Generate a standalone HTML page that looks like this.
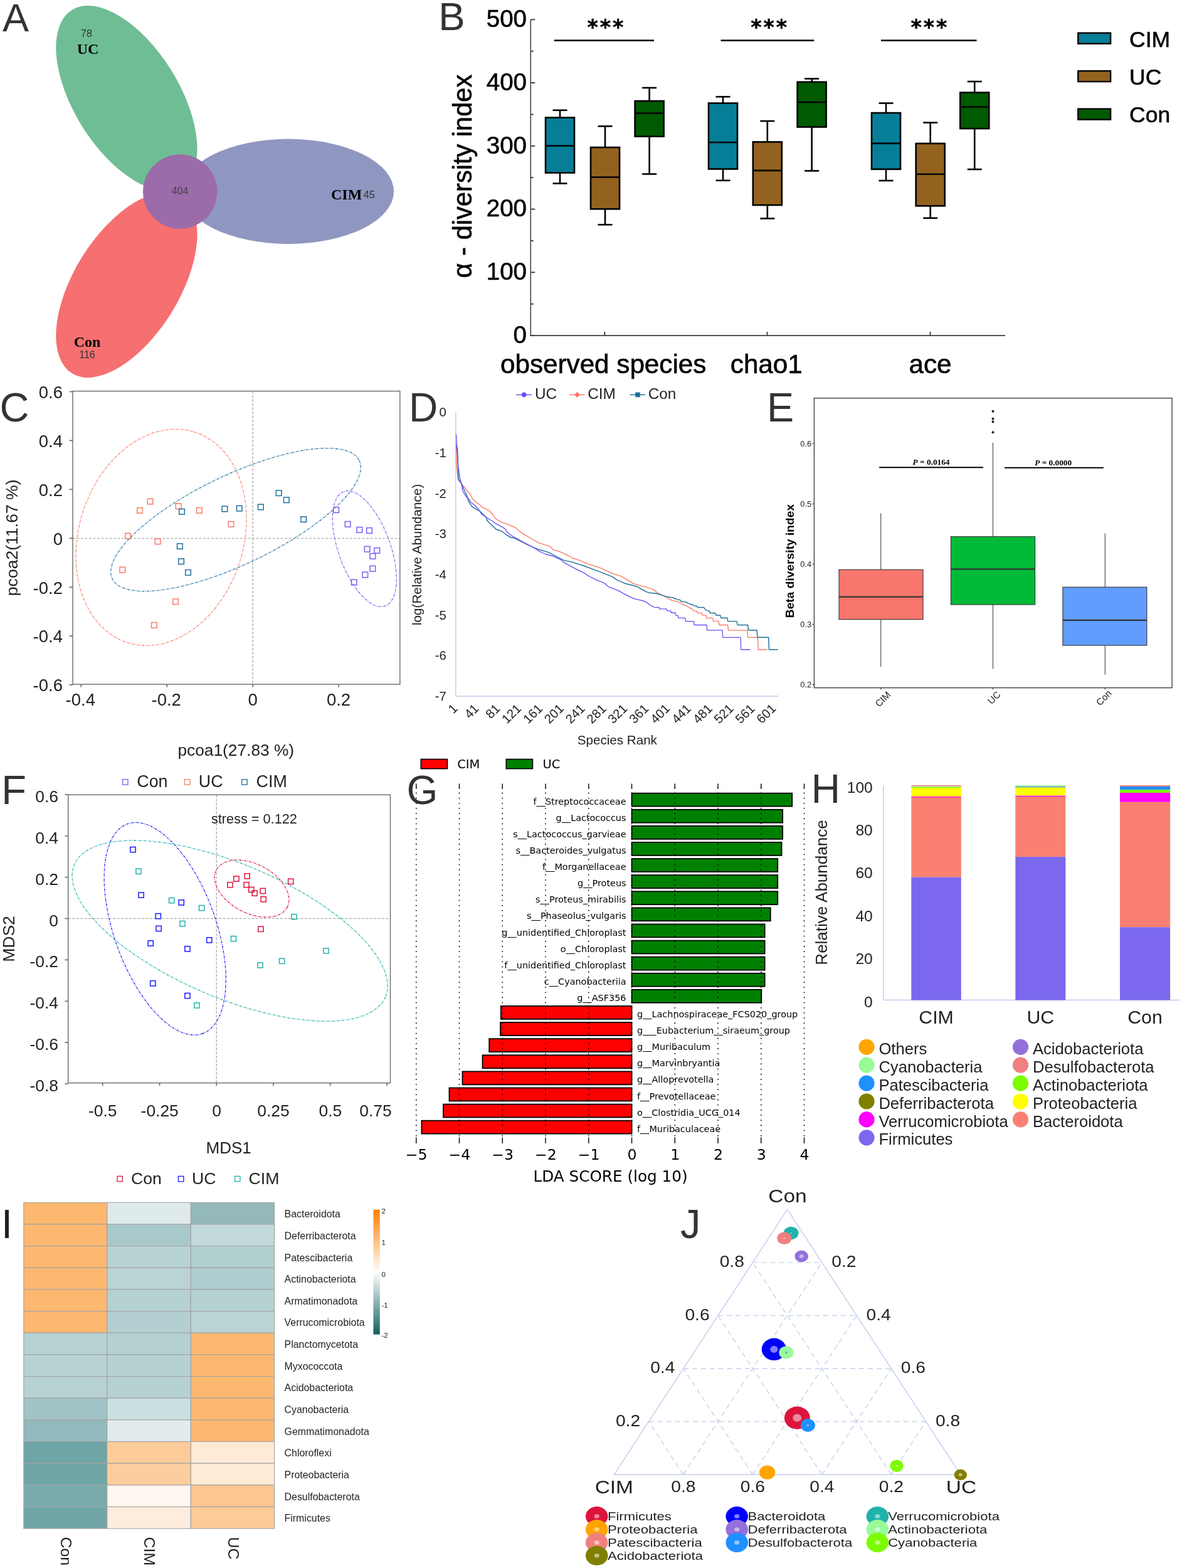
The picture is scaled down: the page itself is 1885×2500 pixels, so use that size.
<!DOCTYPE html>
<html><head><meta charset="utf-8"><title>Figure</title>
<style>html,body{margin:0;padding:0;background:#fff;} svg{display:block;}</style></head>
<body><svg width="1885" height="2500" viewBox="0 0 1885 2500">
<rect width="1885" height="2500" fill="#fff"/>
<!-- panelA -->
<ellipse cx="201.9" cy="156.45" rx="165.42" ry="84.01" fill="#6fbd95" transform="rotate(58.25 201.9 156.45)"/>
<ellipse cx="201.9" cy="454.55" rx="165.42" ry="84.01" fill="#f66f71" transform="rotate(-58.25 201.9 454.55)"/>
<ellipse cx="459.7" cy="305.25" rx="168.4" ry="83.65" fill="#8f97c1"/>
<circle cx="287.2" cy="305.5" r="59.2" fill="#9c6ba9"/>
<text x="4" y="50.4" font-size="63" font-family="Liberation Sans, Arial, sans-serif" fill="#333" text-anchor="start" >A</text>
<text x="138" y="59.4" font-size="16" font-family="Liberation Sans, Arial, sans-serif" fill="#333" text-anchor="middle" >78</text>
<text x="140" y="86" font-size="24" font-family="Liberation Serif, Times New Roman, serif" fill="#000" text-anchor="middle" font-weight="bold">UC</text>
<text x="287" y="309.5" font-size="16" font-family="Liberation Sans, Arial, sans-serif" fill="#444" text-anchor="middle" >404</text>
<text x="528" y="317.6" font-size="24" font-family="Liberation Serif, Times New Roman, serif" fill="#000" text-anchor="start" font-weight="bold">CIM</text>
<text x="579.5" y="316" font-size="16.5" font-family="Liberation Sans, Arial, sans-serif" fill="#333" text-anchor="start" >45</text>
<text x="139" y="553" font-size="24" font-family="Liberation Serif, Times New Roman, serif" fill="#000" text-anchor="middle" font-weight="bold">Con</text>
<text x="139" y="570.5" font-size="16" font-family="Liberation Sans, Arial, sans-serif" fill="#333" text-anchor="middle" >116</text>
<!-- panelB -->
<line x1="846.25" y1="31" x2="846.25" y2="536" stroke="#555" stroke-width="1.8" />
<line x1="845.35" y1="535" x2="1603" y2="535" stroke="#555" stroke-width="1.8" />
<line x1="846.25" y1="535" x2="853.25" y2="535" stroke="#444" stroke-width="2" />
<text x="840" y="546.9" font-size="38.5" font-family="Liberation Sans, Arial, sans-serif" fill="#000" text-anchor="end" stroke="#000" stroke-width="0.6">0</text>
<line x1="846.25" y1="484.62" x2="850.75" y2="484.62" stroke="#444" stroke-width="2" />
<line x1="846.25" y1="434.25" x2="853.25" y2="434.25" stroke="#444" stroke-width="2" />
<text x="840" y="446.15" font-size="38.5" font-family="Liberation Sans, Arial, sans-serif" fill="#000" text-anchor="end" stroke="#000" stroke-width="0.6">100</text>
<line x1="846.25" y1="383.88" x2="850.75" y2="383.88" stroke="#444" stroke-width="2" />
<line x1="846.25" y1="333.5" x2="853.25" y2="333.5" stroke="#444" stroke-width="2" />
<text x="840" y="345.4" font-size="38.5" font-family="Liberation Sans, Arial, sans-serif" fill="#000" text-anchor="end" stroke="#000" stroke-width="0.6">200</text>
<line x1="846.25" y1="283.12" x2="850.75" y2="283.12" stroke="#444" stroke-width="2" />
<line x1="846.25" y1="232.75" x2="853.25" y2="232.75" stroke="#444" stroke-width="2" />
<text x="840" y="244.65" font-size="38.5" font-family="Liberation Sans, Arial, sans-serif" fill="#000" text-anchor="end" stroke="#000" stroke-width="0.6">300</text>
<line x1="846.25" y1="182.38" x2="850.75" y2="182.38" stroke="#444" stroke-width="2" />
<line x1="846.25" y1="132" x2="853.25" y2="132" stroke="#444" stroke-width="2" />
<text x="840" y="143.9" font-size="38.5" font-family="Liberation Sans, Arial, sans-serif" fill="#000" text-anchor="end" stroke="#000" stroke-width="0.6">400</text>
<line x1="846.25" y1="81.62" x2="850.75" y2="81.62" stroke="#444" stroke-width="2" />
<line x1="846.25" y1="31.25" x2="853.25" y2="31.25" stroke="#444" stroke-width="2" />
<text x="840" y="43.15" font-size="38.5" font-family="Liberation Sans, Arial, sans-serif" fill="#000" text-anchor="end" stroke="#000" stroke-width="0.6">500</text>
<line x1="964.25" y1="535" x2="964.25" y2="529" stroke="#444" stroke-width="2" />
<line x1="1223.5" y1="535" x2="1223.5" y2="529" stroke="#444" stroke-width="2" />
<line x1="1483.5" y1="535" x2="1483.5" y2="529" stroke="#444" stroke-width="2" />
<line x1="893" y1="175.75" x2="893" y2="187.5" stroke="#000" stroke-width="2.6" />
<line x1="893" y1="275.5" x2="893" y2="292.5" stroke="#000" stroke-width="2.6" />
<line x1="881.5" y1="175.75" x2="904.5" y2="175.75" stroke="#000" stroke-width="2.6" />
<line x1="881.5" y1="292.5" x2="904.5" y2="292.5" stroke="#000" stroke-width="2.6" />
<rect x="870" y="187.5" width="46" height="88" fill="#077e97" stroke="#000" stroke-width="2.6" />
<line x1="870" y1="232.5" x2="916" y2="232.5" stroke="#000" stroke-width="2.6" />
<line x1="965" y1="201.25" x2="965" y2="235" stroke="#000" stroke-width="2.6" />
<line x1="965" y1="333.25" x2="965" y2="358.25" stroke="#000" stroke-width="2.6" />
<line x1="953.5" y1="201.25" x2="976.5" y2="201.25" stroke="#000" stroke-width="2.6" />
<line x1="953.5" y1="358.25" x2="976.5" y2="358.25" stroke="#000" stroke-width="2.6" />
<rect x="942" y="235" width="46" height="98.25" fill="#93621f" stroke="#000" stroke-width="2.6" />
<line x1="942" y1="282.5" x2="988" y2="282.5" stroke="#000" stroke-width="2.6" />
<line x1="1035.6" y1="140" x2="1035.6" y2="161" stroke="#000" stroke-width="2.6" />
<line x1="1035.6" y1="217.5" x2="1035.6" y2="277.5" stroke="#000" stroke-width="2.6" />
<line x1="1024.1" y1="140" x2="1047.1" y2="140" stroke="#000" stroke-width="2.6" />
<line x1="1024.1" y1="277.5" x2="1047.1" y2="277.5" stroke="#000" stroke-width="2.6" />
<rect x="1012.6" y="161" width="46" height="56.5" fill="#005a00" stroke="#000" stroke-width="2.6" />
<line x1="1012.6" y1="180.5" x2="1058.6" y2="180.5" stroke="#000" stroke-width="2.6" />
<line x1="1153" y1="154.25" x2="1153" y2="164.5" stroke="#000" stroke-width="2.6" />
<line x1="1153" y1="269.5" x2="1153" y2="287.75" stroke="#000" stroke-width="2.6" />
<line x1="1141.5" y1="154.25" x2="1164.5" y2="154.25" stroke="#000" stroke-width="2.6" />
<line x1="1141.5" y1="287.75" x2="1164.5" y2="287.75" stroke="#000" stroke-width="2.6" />
<rect x="1130" y="164.5" width="46" height="105" fill="#077e97" stroke="#000" stroke-width="2.6" />
<line x1="1130" y1="227" x2="1176" y2="227" stroke="#000" stroke-width="2.6" />
<line x1="1223.8" y1="193" x2="1223.8" y2="226.3" stroke="#000" stroke-width="2.6" />
<line x1="1223.8" y1="327" x2="1223.8" y2="348.4" stroke="#000" stroke-width="2.6" />
<line x1="1212.3" y1="193" x2="1235.3" y2="193" stroke="#000" stroke-width="2.6" />
<line x1="1212.3" y1="348.4" x2="1235.3" y2="348.4" stroke="#000" stroke-width="2.6" />
<rect x="1200.8" y="226.3" width="46" height="100.7" fill="#93621f" stroke="#000" stroke-width="2.6" />
<line x1="1200.8" y1="271.9" x2="1246.8" y2="271.9" stroke="#000" stroke-width="2.6" />
<line x1="1294.6" y1="125.5" x2="1294.6" y2="130.75" stroke="#000" stroke-width="2.6" />
<line x1="1294.6" y1="202.5" x2="1294.6" y2="272.4" stroke="#000" stroke-width="2.6" />
<line x1="1283.1" y1="125.5" x2="1306.1" y2="125.5" stroke="#000" stroke-width="2.6" />
<line x1="1283.1" y1="272.4" x2="1306.1" y2="272.4" stroke="#000" stroke-width="2.6" />
<rect x="1271.6" y="130.75" width="46" height="71.75" fill="#005a00" stroke="#000" stroke-width="2.6" />
<line x1="1271.6" y1="163" x2="1317.6" y2="163" stroke="#000" stroke-width="2.6" />
<line x1="1413" y1="164.5" x2="1413" y2="180" stroke="#000" stroke-width="2.6" />
<line x1="1413" y1="269.8" x2="1413" y2="288" stroke="#000" stroke-width="2.6" />
<line x1="1401.5" y1="164.5" x2="1424.5" y2="164.5" stroke="#000" stroke-width="2.6" />
<line x1="1401.5" y1="288" x2="1424.5" y2="288" stroke="#000" stroke-width="2.6" />
<rect x="1390" y="180" width="46" height="89.8" fill="#077e97" stroke="#000" stroke-width="2.6" />
<line x1="1390" y1="228.6" x2="1436" y2="228.6" stroke="#000" stroke-width="2.6" />
<line x1="1483.7" y1="195.5" x2="1483.7" y2="228.8" stroke="#000" stroke-width="2.6" />
<line x1="1483.7" y1="328.3" x2="1483.7" y2="347.7" stroke="#000" stroke-width="2.6" />
<line x1="1472.2" y1="195.5" x2="1495.2" y2="195.5" stroke="#000" stroke-width="2.6" />
<line x1="1472.2" y1="347.7" x2="1495.2" y2="347.7" stroke="#000" stroke-width="2.6" />
<rect x="1460.7" y="228.8" width="46" height="99.5" fill="#93621f" stroke="#000" stroke-width="2.6" />
<line x1="1460.7" y1="277.7" x2="1506.7" y2="277.7" stroke="#000" stroke-width="2.6" />
<line x1="1554.25" y1="130" x2="1554.25" y2="147.5" stroke="#000" stroke-width="2.6" />
<line x1="1554.25" y1="205" x2="1554.25" y2="270" stroke="#000" stroke-width="2.6" />
<line x1="1542.75" y1="130" x2="1565.75" y2="130" stroke="#000" stroke-width="2.6" />
<line x1="1542.75" y1="270" x2="1565.75" y2="270" stroke="#000" stroke-width="2.6" />
<rect x="1531.25" y="147.5" width="46" height="57.5" fill="#005a00" stroke="#000" stroke-width="2.6" />
<line x1="1531.25" y1="170.5" x2="1577.25" y2="170.5" stroke="#000" stroke-width="2.6" />
<line x1="883.75" y1="64.5" x2="1043" y2="64.5" stroke="#000" stroke-width="2.5" />
<text x="966.8" y="54.5" font-size="33" font-family="DejaVu Sans, sans-serif" fill="#000" text-anchor="middle" font-weight="bold" letter-spacing="3" stroke="#000" stroke-width="0.5">***</text>
<line x1="1149.5" y1="64.5" x2="1298.25" y2="64.5" stroke="#000" stroke-width="2.5" />
<text x="1227.7" y="54.5" font-size="33" font-family="DejaVu Sans, sans-serif" fill="#000" text-anchor="middle" font-weight="bold" letter-spacing="3" stroke="#000" stroke-width="0.5">***</text>
<line x1="1405" y1="64.5" x2="1557.5" y2="64.5" stroke="#000" stroke-width="2.5" />
<text x="1482.8" y="54.5" font-size="33" font-family="DejaVu Sans, sans-serif" fill="#000" text-anchor="middle" font-weight="bold" letter-spacing="3" stroke="#000" stroke-width="0.5">***</text>
<text x="962.2" y="594.6" font-size="42.2" font-family="Liberation Sans, Arial, sans-serif" fill="#000" text-anchor="middle" stroke="#000" stroke-width="0.6">observed species</text>
<text x="1222.3" y="594.6" font-size="42.2" font-family="Liberation Sans, Arial, sans-serif" fill="#000" text-anchor="middle" stroke="#000" stroke-width="0.6">chao1</text>
<text x="1483.5" y="594.6" font-size="42.2" font-family="Liberation Sans, Arial, sans-serif" fill="#000" text-anchor="middle" stroke="#000" stroke-width="0.6">ace</text>
<text x="752" y="281" font-size="41.6" font-family="Liberation Sans, Arial, sans-serif" fill="#000" text-anchor="middle" transform="rotate(-90 752 281)" stroke="#000" stroke-width="0.6">α - diversity index</text>
<text x="699.3" y="47.5" font-size="63.5" font-family="Liberation Sans, Arial, sans-serif" fill="#333" text-anchor="start" >B</text>
<rect x="1719.3" y="52.6" width="51.8" height="17" fill="#077e97" stroke="#000" stroke-width="2.4" />
<text x="1801" y="74.5" font-size="35.5" font-family="Liberation Sans, Arial, sans-serif" fill="#000" text-anchor="start" stroke="#000" stroke-width="0.6">CIM</text>
<rect x="1719.3" y="113.1" width="51.8" height="17" fill="#93621f" stroke="#000" stroke-width="2.4" />
<text x="1801" y="135" font-size="35.5" font-family="Liberation Sans, Arial, sans-serif" fill="#000" text-anchor="start" stroke="#000" stroke-width="0.6">UC</text>
<rect x="1719.3" y="173.6" width="51.8" height="17" fill="#005a00" stroke="#000" stroke-width="2.4" />
<text x="1801" y="195" font-size="35.5" font-family="Liberation Sans, Arial, sans-serif" fill="#000" text-anchor="start" stroke="#000" stroke-width="0.6">Con</text>
<!-- panelC -->
<line x1="403.1" y1="623.6" x2="403.1" y2="1091" stroke="#999" stroke-width="1.1" stroke-dasharray="4 2.5"/>
<line x1="116" y1="858.2" x2="637.8" y2="858.2" stroke="#999" stroke-width="1.1" stroke-dasharray="4 2.5"/>
<rect x="116" y="623.6" width="521.8" height="467.4" fill="none" stroke="#666" stroke-width="1.35" />
<line x1="110.8" y1="1091.9" x2="116" y2="1091.9" stroke="#666" stroke-width="1.6" />
<text x="100" y="1102.3" font-size="27.5" font-family="Liberation Sans, Arial, sans-serif" fill="#222" text-anchor="end" >-0.6</text>
<line x1="110.8" y1="1014" x2="116" y2="1014" stroke="#666" stroke-width="1.6" />
<text x="100" y="1024.4" font-size="27.5" font-family="Liberation Sans, Arial, sans-serif" fill="#222" text-anchor="end" >-0.4</text>
<line x1="110.8" y1="936.1" x2="116" y2="936.1" stroke="#666" stroke-width="1.6" />
<text x="100" y="946.5" font-size="27.5" font-family="Liberation Sans, Arial, sans-serif" fill="#222" text-anchor="end" >-0.2</text>
<line x1="110.8" y1="858.2" x2="116" y2="858.2" stroke="#666" stroke-width="1.6" />
<text x="100" y="868.6" font-size="27.5" font-family="Liberation Sans, Arial, sans-serif" fill="#222" text-anchor="end" >0</text>
<line x1="110.8" y1="780.3" x2="116" y2="780.3" stroke="#666" stroke-width="1.6" />
<text x="100" y="790.7" font-size="27.5" font-family="Liberation Sans, Arial, sans-serif" fill="#222" text-anchor="end" >0.2</text>
<line x1="110.8" y1="702.4" x2="116" y2="702.4" stroke="#666" stroke-width="1.6" />
<text x="100" y="712.8" font-size="27.5" font-family="Liberation Sans, Arial, sans-serif" fill="#222" text-anchor="end" >0.4</text>
<line x1="110.8" y1="624.5" x2="116" y2="624.5" stroke="#666" stroke-width="1.6" />
<text x="100" y="634.9" font-size="27.5" font-family="Liberation Sans, Arial, sans-serif" fill="#222" text-anchor="end" >0.6</text>
<line x1="129.3" y1="1091" x2="129.3" y2="1095.5" stroke="#666" stroke-width="1.6" />
<text x="128.3" y="1125" font-size="27.5" font-family="Liberation Sans, Arial, sans-serif" fill="#222" text-anchor="middle" >-0.4</text>
<line x1="266.2" y1="1091" x2="266.2" y2="1095.5" stroke="#666" stroke-width="1.6" />
<text x="265.2" y="1125" font-size="27.5" font-family="Liberation Sans, Arial, sans-serif" fill="#222" text-anchor="middle" >-0.2</text>
<line x1="403.1" y1="1091" x2="403.1" y2="1095.5" stroke="#666" stroke-width="1.6" />
<text x="403.1" y="1125" font-size="27.5" font-family="Liberation Sans, Arial, sans-serif" fill="#222" text-anchor="middle" >0</text>
<line x1="540" y1="1091" x2="540" y2="1095.5" stroke="#666" stroke-width="1.6" />
<text x="540" y="1125" font-size="27.5" font-family="Liberation Sans, Arial, sans-serif" fill="#222" text-anchor="middle" >0.2</text>
<ellipse cx="257" cy="856.8" rx="176.16" ry="131.22" transform="rotate(-72.3 257 856.8)" fill="none" stroke="#fa7a68" stroke-width="1.3" stroke-dasharray="3.6 1.6 1.1 1.6"/>
<ellipse cx="376" cy="828.6" rx="218.33" ry="71.05" transform="rotate(-25.58 376 828.6)" fill="none" stroke="#1f6e9e" stroke-width="1.3" stroke-dasharray="3.6 1.6 1.1 1.6"/>
<ellipse cx="581.3" cy="875" rx="96.99" ry="41.4" transform="rotate(70.15 581.3 875)" fill="none" stroke="#7a5cf5" stroke-width="1.3" stroke-dasharray="3.6 1.6 1.1 1.6"/>
<rect x="235.3" y="795.2" width="8.6" height="8.6" fill="none" stroke="#fa7a68" stroke-width="1.5"/>
<rect x="218.7" y="809.5" width="8.6" height="8.6" fill="none" stroke="#fa7a68" stroke-width="1.5"/>
<rect x="280.3" y="802.8" width="8.6" height="8.6" fill="none" stroke="#fa7a68" stroke-width="1.5"/>
<rect x="313.5" y="809.5" width="8.6" height="8.6" fill="none" stroke="#fa7a68" stroke-width="1.5"/>
<rect x="364.2" y="831.5" width="8.6" height="8.6" fill="none" stroke="#fa7a68" stroke-width="1.5"/>
<rect x="199.7" y="850.3" width="8.6" height="8.6" fill="none" stroke="#fa7a68" stroke-width="1.5"/>
<rect x="247.2" y="859" width="8.6" height="8.6" fill="none" stroke="#fa7a68" stroke-width="1.5"/>
<rect x="191" y="904.3" width="8.6" height="8.6" fill="none" stroke="#fa7a68" stroke-width="1.5"/>
<rect x="275.7" y="954.9" width="8.6" height="8.6" fill="none" stroke="#fa7a68" stroke-width="1.5"/>
<rect x="241.5" y="992.5" width="8.6" height="8.6" fill="none" stroke="#fa7a68" stroke-width="1.5"/>
<rect x="285.7" y="811.5" width="8.6" height="8.6" fill="none" stroke="#1f6e9e" stroke-width="1.5"/>
<rect x="354.1" y="807.1" width="8.6" height="8.6" fill="none" stroke="#1f6e9e" stroke-width="1.5"/>
<rect x="377.4" y="806.3" width="8.6" height="8.6" fill="none" stroke="#1f6e9e" stroke-width="1.5"/>
<rect x="282.5" y="866.7" width="8.6" height="8.6" fill="none" stroke="#1f6e9e" stroke-width="1.5"/>
<rect x="284.7" y="890.9" width="8.6" height="8.6" fill="none" stroke="#1f6e9e" stroke-width="1.5"/>
<rect x="295.7" y="908.5" width="8.6" height="8.6" fill="none" stroke="#1f6e9e" stroke-width="1.5"/>
<rect x="440.3" y="781.8" width="8.6" height="8.6" fill="none" stroke="#1f6e9e" stroke-width="1.5"/>
<rect x="452.4" y="792.9" width="8.6" height="8.6" fill="none" stroke="#1f6e9e" stroke-width="1.5"/>
<rect x="411.5" y="804.1" width="8.6" height="8.6" fill="none" stroke="#1f6e9e" stroke-width="1.5"/>
<rect x="479.8" y="823.8" width="8.6" height="8.6" fill="none" stroke="#1f6e9e" stroke-width="1.5"/>
<rect x="531.8" y="808.8" width="8.6" height="8.6" fill="none" stroke="#7a5cf5" stroke-width="1.5"/>
<rect x="550.3" y="831.5" width="8.6" height="8.6" fill="none" stroke="#7a5cf5" stroke-width="1.5"/>
<rect x="569.1" y="840.5" width="8.6" height="8.6" fill="none" stroke="#7a5cf5" stroke-width="1.5"/>
<rect x="584.7" y="841.6" width="8.6" height="8.6" fill="none" stroke="#7a5cf5" stroke-width="1.5"/>
<rect x="581.3" y="871.3" width="8.6" height="8.6" fill="none" stroke="#7a5cf5" stroke-width="1.5"/>
<rect x="597" y="873.5" width="8.6" height="8.6" fill="none" stroke="#7a5cf5" stroke-width="1.5"/>
<rect x="590.1" y="882.5" width="8.6" height="8.6" fill="none" stroke="#7a5cf5" stroke-width="1.5"/>
<rect x="590.1" y="902.3" width="8.6" height="8.6" fill="none" stroke="#7a5cf5" stroke-width="1.5"/>
<rect x="578" y="912.1" width="8.6" height="8.6" fill="none" stroke="#7a5cf5" stroke-width="1.5"/>
<rect x="560.4" y="924.1" width="8.6" height="8.6" fill="none" stroke="#7a5cf5" stroke-width="1.5"/>
<text x="-0.5" y="671.5" font-size="65" font-family="Liberation Sans, Arial, sans-serif" fill="#333" text-anchor="start" >C</text>
<text x="28.3" y="857.3" font-size="26.6" font-family="Liberation Sans, Arial, sans-serif" fill="#222" text-anchor="middle" transform="rotate(-90 28.3 857.3)" >pcoa2(11.67 %)</text>
<text x="376.3" y="1205" font-size="26.3" font-family="Liberation Sans, Arial, sans-serif" fill="#222" text-anchor="middle" >pcoa1(27.83 %)</text>
<!-- panelD -->
<line x1="726.7" y1="657.2" x2="726.7" y2="1110.1" stroke="#c5cbee" stroke-width="1.5" />
<line x1="726.7" y1="1110.1" x2="1241" y2="1110.1" stroke="#c5cbee" stroke-width="1.5" />
<text x="711.8" y="664.3" font-size="20.2" font-family="Liberation Sans, Arial, sans-serif" fill="#222" text-anchor="end" >0</text>
<text x="711.8" y="728.99" font-size="20.2" font-family="Liberation Sans, Arial, sans-serif" fill="#222" text-anchor="end" >-1</text>
<text x="711.8" y="793.68" font-size="20.2" font-family="Liberation Sans, Arial, sans-serif" fill="#222" text-anchor="end" >-2</text>
<text x="711.8" y="858.37" font-size="20.2" font-family="Liberation Sans, Arial, sans-serif" fill="#222" text-anchor="end" >-3</text>
<text x="711.8" y="923.06" font-size="20.2" font-family="Liberation Sans, Arial, sans-serif" fill="#222" text-anchor="end" >-4</text>
<text x="711.8" y="987.75" font-size="20.2" font-family="Liberation Sans, Arial, sans-serif" fill="#222" text-anchor="end" >-5</text>
<text x="711.8" y="1052.44" font-size="20.2" font-family="Liberation Sans, Arial, sans-serif" fill="#222" text-anchor="end" >-6</text>
<text x="711.8" y="1117.13" font-size="20.2" font-family="Liberation Sans, Arial, sans-serif" fill="#222" text-anchor="end" >-7</text>
<text x="731" y="1130.9" font-size="20.3" font-family="Liberation Sans, Arial, sans-serif" fill="#222" text-anchor="end" transform="rotate(-45 731 1130.9)" >1</text>
<text x="764.85" y="1130.9" font-size="20.3" font-family="Liberation Sans, Arial, sans-serif" fill="#222" text-anchor="end" transform="rotate(-45 764.85 1130.9)" >41</text>
<text x="798.7" y="1130.9" font-size="20.3" font-family="Liberation Sans, Arial, sans-serif" fill="#222" text-anchor="end" transform="rotate(-45 798.7 1130.9)" >81</text>
<text x="832.55" y="1130.9" font-size="20.3" font-family="Liberation Sans, Arial, sans-serif" fill="#222" text-anchor="end" transform="rotate(-45 832.55 1130.9)" >121</text>
<text x="866.4" y="1130.9" font-size="20.3" font-family="Liberation Sans, Arial, sans-serif" fill="#222" text-anchor="end" transform="rotate(-45 866.4 1130.9)" >161</text>
<text x="900.25" y="1130.9" font-size="20.3" font-family="Liberation Sans, Arial, sans-serif" fill="#222" text-anchor="end" transform="rotate(-45 900.25 1130.9)" >201</text>
<text x="934.1" y="1130.9" font-size="20.3" font-family="Liberation Sans, Arial, sans-serif" fill="#222" text-anchor="end" transform="rotate(-45 934.1 1130.9)" >241</text>
<text x="967.95" y="1130.9" font-size="20.3" font-family="Liberation Sans, Arial, sans-serif" fill="#222" text-anchor="end" transform="rotate(-45 967.95 1130.9)" >281</text>
<text x="1001.8" y="1130.9" font-size="20.3" font-family="Liberation Sans, Arial, sans-serif" fill="#222" text-anchor="end" transform="rotate(-45 1001.8 1130.9)" >321</text>
<text x="1035.65" y="1130.9" font-size="20.3" font-family="Liberation Sans, Arial, sans-serif" fill="#222" text-anchor="end" transform="rotate(-45 1035.65 1130.9)" >361</text>
<text x="1069.5" y="1130.9" font-size="20.3" font-family="Liberation Sans, Arial, sans-serif" fill="#222" text-anchor="end" transform="rotate(-45 1069.5 1130.9)" >401</text>
<text x="1103.35" y="1130.9" font-size="20.3" font-family="Liberation Sans, Arial, sans-serif" fill="#222" text-anchor="end" transform="rotate(-45 1103.35 1130.9)" >441</text>
<text x="1137.2" y="1130.9" font-size="20.3" font-family="Liberation Sans, Arial, sans-serif" fill="#222" text-anchor="end" transform="rotate(-45 1137.2 1130.9)" >481</text>
<text x="1171.05" y="1130.9" font-size="20.3" font-family="Liberation Sans, Arial, sans-serif" fill="#222" text-anchor="end" transform="rotate(-45 1171.05 1130.9)" >521</text>
<text x="1204.9" y="1130.9" font-size="20.3" font-family="Liberation Sans, Arial, sans-serif" fill="#222" text-anchor="end" transform="rotate(-45 1204.9 1130.9)" >561</text>
<text x="1238.75" y="1130.9" font-size="20.3" font-family="Liberation Sans, Arial, sans-serif" fill="#222" text-anchor="end" transform="rotate(-45 1238.75 1130.9)" >601</text>
<text x="984.4" y="1187" font-size="20.6" font-family="Liberation Sans, Arial, sans-serif" fill="#222" text-anchor="middle" >Species Rank</text>
<text x="671.7" y="884.4" font-size="20.7" font-family="Liberation Sans, Arial, sans-serif" fill="#222" text-anchor="middle" transform="rotate(-90 671.7 884.4)" >log(Relative Abundance)</text>
<text x="652" y="671.7" font-size="64" font-family="Liberation Sans, Arial, sans-serif" fill="#333" text-anchor="start" >D</text>
<polyline points="727.6,709.1 728.1,741.5 730.3,764.2 737.3,772.8 744.8,782.5 750.2,787.9 753.5,795.5 757.8,799.8 764.2,804.1 768.6,808.4 780.4,814.3 784.7,819.2 791.2,827.8 800.9,833.2 809.6,835.9 821.4,840.8 830.6,848.6 846.4,858.5 859.6,865.7 878,871.7 882,876.9 891.2,878.9 907,886.2 912.3,889.5 922.9,892.8 936.1,898.7 957.2,905.3 975.6,913.9 991.5,919.1 1009.9,930.3 1023.1,934.3 1030,935.6 1041.9,939.8 1048.5,945.1 1063,952.3 1072.2,957.6 1080.1,958.9 1085.4,961.5 1088,963.5 1093.3,965.5 1098.6,968.1 1103.9,971.4 1106.5,974.1 1111.1,974.1 1112.4,977.4 1119,977.4 1120.3,980.9 1125.6,980.9 1126.9,985.3 1136.8,985.3 1137.5,990.3 1146.1,990.3 1147.1,996.5 1160.6,996.5 1161.6,1004.8 1191.6,1004.8 1192.6,1016.3 1208.3,1016.3 1209.3,1035.7 1223.6,1035.7" fill="none" stroke="#fa7a64" stroke-width="1.35" stroke-linejoin="round"/>
<polyline points="727.6,708 729.7,715.6 730.3,742.6 731.3,764.2 736.2,771.7 739.4,779.3 744.8,791.1 747,798.7 752.4,807.3 758.8,811.6 765.3,814.9 775,824.6 777.2,830.5 784.7,837.5 791.2,844 799.9,846.7 807.4,852.7 815,857 820,857.8 841.1,868.4 855.6,875 875.4,880.9 888.6,888.1 899.1,893.4 912.3,896.1 930.8,902 951.9,909.9 975.6,919.1 983.5,924.4 996.7,930.3 1015.2,935 1030,943.1 1035.3,945.3 1043.2,945.7 1049.8,947 1063,951.4 1073.5,953 1080.1,955.9 1084.1,956.3 1086.7,959.3 1093.3,959.6 1097.3,961.9 1103.9,964.2 1106.5,965.9 1111.1,966.2 1112.4,968.5 1122.3,968.5 1126.3,973.4 1131.6,974.1 1132.2,977.4 1140.8,977.4 1141.8,980.9 1148.7,980.9 1149.8,985.3 1159.9,985.3 1160.8,990.6 1175.1,990.6 1176.1,996.5 1192.6,996.5 1193.5,1004.8 1207.1,1004.8 1208,1016.3 1225.6,1016.3 1226.5,1035.7 1240.8,1035.7" fill="none" stroke="#1f6f9a" stroke-width="1.45" stroke-linejoin="round"/>
<polyline points="727.6,692.4 728.1,707 730.8,744.7 733.5,762 736.7,775 737.8,782.5 743.2,791.7 748.6,796.5 749.7,799.8 756.7,805.2 763.2,812.2 767.5,819.2 775,824.6 784.7,830.5 789.1,833.8 805.2,842.9 808.5,848.3 817.1,854.8 826.8,860 835.8,865.1 855.6,875.6 858.2,878.2 870.1,883.5 882,886.8 893.9,892.1 899.1,896.7 915,905.3 932.1,913.9 938.7,918.5 950.6,924.4 963.8,929.7 970.4,935.6 986.2,941.6 994.1,946.2 1009.9,954.1 1025.8,958 1030,959.6 1037.9,965.5 1043.2,968.1 1051.1,968.5 1051.8,970.8 1063,970.8 1063.6,973.8 1069.6,973.8 1070.2,977 1076.8,977 1077.5,980.7 1081.4,982 1082.1,985.3 1092.6,985.3 1093.3,990.6 1106.5,990.6 1107.2,996.5 1126.9,996.5 1127.6,1004.8 1152,1004.8 1152.7,1016.3 1181,1016.3 1181.7,1035.7 1196.9,1035.7" fill="none" stroke="#6a4ff5" stroke-width="1.35" stroke-linejoin="round"/>
<line x1="823.3" y1="629.4" x2="847.8" y2="629.4" stroke="#6a4ff5" stroke-width="1.5" />
<circle cx="835.7" cy="629.4" r="3.8" fill="#6a4ff5"/>
<text x="853" y="636.4" font-size="24.3" font-family="Liberation Sans, Arial, sans-serif" fill="#222" text-anchor="start" >UC</text>
<line x1="908.2" y1="629.4" x2="932.6" y2="629.4" stroke="#fa7a64" stroke-width="1.5" />
<rect x="917.1999999999999" y="626.1999999999999" width="6.4" height="6.4" fill="#fa7a64" transform="rotate(45 920.4 629.4)"/>
<text x="937.3" y="636.4" font-size="24.3" font-family="Liberation Sans, Arial, sans-serif" fill="#222" text-anchor="start" >CIM</text>
<line x1="1004.6" y1="629.4" x2="1029" y2="629.4" stroke="#1f6f9a" stroke-width="1.5" />
<rect x="1013.2" y="625.6" width="7.6" height="7.6" fill="#1f6f9a" stroke="none" stroke-width="1" />
<text x="1033.8" y="636.4" font-size="24.3" font-family="Liberation Sans, Arial, sans-serif" fill="#222" text-anchor="start" >Con</text>
<!-- panelE -->
<rect x="1298.4" y="634.8" width="570.7" height="461.8" fill="#fff" stroke="#333" stroke-width="1.3" />
<line x1="1295.6" y1="1091.6" x2="1298.4" y2="1091.6" stroke="#333" stroke-width="1.1" />
<text x="1294.1" y="1096.1" font-size="12.8" font-family="Liberation Sans, Arial, sans-serif" fill="#222" text-anchor="end" >0.2</text>
<line x1="1295.6" y1="995.5" x2="1298.4" y2="995.5" stroke="#333" stroke-width="1.1" />
<text x="1294.1" y="1000" font-size="12.8" font-family="Liberation Sans, Arial, sans-serif" fill="#222" text-anchor="end" >0.3</text>
<line x1="1295.6" y1="899.4" x2="1298.4" y2="899.4" stroke="#333" stroke-width="1.1" />
<text x="1294.1" y="903.9" font-size="12.8" font-family="Liberation Sans, Arial, sans-serif" fill="#222" text-anchor="end" >0.4</text>
<line x1="1295.6" y1="803.3" x2="1298.4" y2="803.3" stroke="#333" stroke-width="1.1" />
<text x="1294.1" y="807.8" font-size="12.8" font-family="Liberation Sans, Arial, sans-serif" fill="#222" text-anchor="end" >0.5</text>
<line x1="1295.6" y1="707.2" x2="1298.4" y2="707.2" stroke="#333" stroke-width="1.1" />
<text x="1294.1" y="711.7" font-size="12.8" font-family="Liberation Sans, Arial, sans-serif" fill="#222" text-anchor="end" >0.6</text>
<line x1="1404.7" y1="818.5" x2="1404.7" y2="908.2" stroke="#444" stroke-width="1.1" />
<line x1="1404.7" y1="987.6" x2="1404.7" y2="1063.3" stroke="#444" stroke-width="1.1" />
<rect x="1338" y="908.2" width="134" height="79.4" fill="#f8766d" stroke="#333" stroke-width="1.1" />
<line x1="1338" y1="951.7" x2="1472" y2="951.7" stroke="#333" stroke-width="2.2" />
<line x1="1404.7" y1="1096.6" x2="1404.7" y2="1099.4" stroke="#333" stroke-width="1.1" />
<line x1="1583.5" y1="705.8" x2="1583.5" y2="855.6" stroke="#444" stroke-width="1.1" />
<line x1="1583.5" y1="964" x2="1583.5" y2="1066.5" stroke="#444" stroke-width="1.1" />
<rect x="1516.4" y="855.6" width="134.2" height="108.4" fill="#00ba38" stroke="#333" stroke-width="1.1" />
<line x1="1516.4" y1="907.4" x2="1650.6" y2="907.4" stroke="#333" stroke-width="2.2" />
<line x1="1583.5" y1="1096.6" x2="1583.5" y2="1099.4" stroke="#333" stroke-width="1.1" />
<line x1="1762.3" y1="850.4" x2="1762.3" y2="936.1" stroke="#444" stroke-width="1.1" />
<line x1="1762.3" y1="1029" x2="1762.3" y2="1075.7" stroke="#444" stroke-width="1.1" />
<rect x="1694.9" y="936.1" width="134" height="92.9" fill="#619cff" stroke="#333" stroke-width="1.1" />
<line x1="1694.9" y1="988.8" x2="1828.9" y2="988.8" stroke="#333" stroke-width="2.2" />
<line x1="1762.3" y1="1096.6" x2="1762.3" y2="1099.4" stroke="#333" stroke-width="1.1" />
<circle cx="1583.5" cy="655.8" r="2" fill="#222"/>
<circle cx="1583.5" cy="667.7" r="2" fill="#222"/>
<circle cx="1583.5" cy="672.6" r="2" fill="#222"/>
<circle cx="1583.5" cy="689.2" r="2" fill="#222"/>
<line x1="1402.1" y1="745.2" x2="1568.1" y2="745.2" stroke="#000" stroke-width="1.9" />
<line x1="1601.9" y1="745.7" x2="1759.9" y2="745.7" stroke="#000" stroke-width="1.9" />
<text x="1455.6" y="741" font-size="13.3" font-family="Liberation Serif, Times New Roman, serif" font-weight="bold"><tspan font-style="italic">P</tspan> = 0.0164</text>
<text x="1650.2" y="741.9" font-size="13.3" font-family="Liberation Serif, Times New Roman, serif" font-weight="bold"><tspan font-style="italic">P</tspan> = 0.0000</text>
<text x="1411.7" y="1118.4" font-size="15" font-family="Liberation Sans, Arial, sans-serif" fill="#222" text-anchor="middle" transform="rotate(-45 1411.7 1118.4)" >CIM</text>
<text x="1589" y="1116" font-size="15" font-family="Liberation Sans, Arial, sans-serif" fill="#222" text-anchor="middle" transform="rotate(-45 1589 1116)" >UC</text>
<text x="1764" y="1116.2" font-size="15" font-family="Liberation Sans, Arial, sans-serif" fill="#222" text-anchor="middle" transform="rotate(-45 1764 1116.2)" >Con</text>
<text x="1265.7" y="894.5" font-size="19.2" font-family="Liberation Sans, Arial, sans-serif" fill="#000" text-anchor="middle" transform="rotate(-90 1265.7 894.5)" font-weight="bold">Beta diversity index</text>
<text x="1223" y="672.2" font-size="64.5" font-family="Liberation Sans, Arial, sans-serif" fill="#333" text-anchor="start" >E</text>
<!-- panelF -->
<line x1="345.2" y1="1267.2" x2="345.2" y2="1726.6" stroke="#999" stroke-width="1.1" stroke-dasharray="4 2.5"/>
<line x1="108.7" y1="1464.5" x2="622.5" y2="1464.5" stroke="#999" stroke-width="1.1" stroke-dasharray="4 2.5"/>
<rect x="108.7" y="1267.2" width="513.8" height="459.4" fill="none" stroke="#666" stroke-width="1.35" />
<line x1="103.5" y1="1266.8" x2="108.7" y2="1266.8" stroke="#666" stroke-width="1.6" />
<text x="93" y="1278.8" font-size="26.4" font-family="Liberation Sans, Arial, sans-serif" fill="#222" text-anchor="end" >0.6</text>
<line x1="103.5" y1="1332.7" x2="108.7" y2="1332.7" stroke="#666" stroke-width="1.6" />
<text x="93" y="1344.7" font-size="26.4" font-family="Liberation Sans, Arial, sans-serif" fill="#222" text-anchor="end" >0.4</text>
<line x1="103.5" y1="1398.6" x2="108.7" y2="1398.6" stroke="#666" stroke-width="1.6" />
<text x="93" y="1410.6" font-size="26.4" font-family="Liberation Sans, Arial, sans-serif" fill="#222" text-anchor="end" >0.2</text>
<line x1="103.5" y1="1464.5" x2="108.7" y2="1464.5" stroke="#666" stroke-width="1.6" />
<text x="93" y="1476.5" font-size="26.4" font-family="Liberation Sans, Arial, sans-serif" fill="#222" text-anchor="end" >0</text>
<line x1="103.5" y1="1530.4" x2="108.7" y2="1530.4" stroke="#666" stroke-width="1.6" />
<text x="93" y="1542.4" font-size="26.4" font-family="Liberation Sans, Arial, sans-serif" fill="#222" text-anchor="end" >-0.2</text>
<line x1="103.5" y1="1596.3" x2="108.7" y2="1596.3" stroke="#666" stroke-width="1.6" />
<text x="93" y="1608.3" font-size="26.4" font-family="Liberation Sans, Arial, sans-serif" fill="#222" text-anchor="end" >-0.4</text>
<line x1="103.5" y1="1662.2" x2="108.7" y2="1662.2" stroke="#666" stroke-width="1.6" />
<text x="93" y="1674.2" font-size="26.4" font-family="Liberation Sans, Arial, sans-serif" fill="#222" text-anchor="end" >-0.6</text>
<line x1="103.5" y1="1728.1" x2="108.7" y2="1728.1" stroke="#666" stroke-width="1.6" />
<text x="93" y="1740.1" font-size="26.4" font-family="Liberation Sans, Arial, sans-serif" fill="#222" text-anchor="end" >-0.8</text>
<line x1="163.8" y1="1726.6" x2="163.8" y2="1731.1" stroke="#666" stroke-width="1.6" />
<text x="163.7" y="1779.5" font-size="26.4" font-family="Liberation Sans, Arial, sans-serif" fill="#222" text-anchor="middle" >-0.5</text>
<line x1="254.5" y1="1726.6" x2="254.5" y2="1731.1" stroke="#666" stroke-width="1.6" />
<text x="254.7" y="1779.5" font-size="26.4" font-family="Liberation Sans, Arial, sans-serif" fill="#222" text-anchor="middle" >-0.25</text>
<line x1="345.2" y1="1726.6" x2="345.2" y2="1731.1" stroke="#666" stroke-width="1.6" />
<text x="345.6" y="1779.5" font-size="26.4" font-family="Liberation Sans, Arial, sans-serif" fill="#222" text-anchor="middle" >0</text>
<line x1="435.9" y1="1726.6" x2="435.9" y2="1731.1" stroke="#666" stroke-width="1.6" />
<text x="436" y="1779.5" font-size="26.4" font-family="Liberation Sans, Arial, sans-serif" fill="#222" text-anchor="middle" >0.25</text>
<line x1="526.6" y1="1726.6" x2="526.6" y2="1731.1" stroke="#666" stroke-width="1.6" />
<text x="526.9" y="1779.5" font-size="26.4" font-family="Liberation Sans, Arial, sans-serif" fill="#222" text-anchor="middle" >0.5</text>
<line x1="617.3" y1="1726.6" x2="617.3" y2="1731.1" stroke="#666" stroke-width="1.6" />
<text x="599" y="1779.5" font-size="26.4" font-family="Liberation Sans, Arial, sans-serif" fill="#222" text-anchor="middle" >0.75</text>
<ellipse cx="263.2" cy="1480.8" rx="177.5" ry="81.2" transform="rotate(70.32 263.2 1480.8)" fill="none" stroke="#1a1aff" stroke-width="1.3" stroke-dasharray="3.6 1.6 1.1 1.6"/>
<ellipse cx="366.6" cy="1484.1" rx="269.6" ry="106.57" transform="rotate(23.06 366.6 1484.1)" fill="none" stroke="#20b2aa" stroke-width="1.3" stroke-dasharray="3.6 1.6 1.1 1.6"/>
<ellipse cx="401.55" cy="1416.8" rx="63.84" ry="39.06" transform="rotate(27.76 401.55 1416.8)" fill="none" stroke="#dc143c" stroke-width="1.3" stroke-dasharray="3.6 1.6 1.1 1.6"/>
<rect x="216.8" y="1385.2" width="8.2" height="8.2" fill="none" stroke="#20b2aa" stroke-width="1.5"/>
<rect x="269.6" y="1431.5" width="8.2" height="8.2" fill="none" stroke="#20b2aa" stroke-width="1.5"/>
<rect x="317.5" y="1443.6" width="8.2" height="8.2" fill="none" stroke="#20b2aa" stroke-width="1.5"/>
<rect x="286.9" y="1468.5" width="8.2" height="8.2" fill="none" stroke="#20b2aa" stroke-width="1.5"/>
<rect x="368.4" y="1492.6" width="8.2" height="8.2" fill="none" stroke="#20b2aa" stroke-width="1.5"/>
<rect x="464.8" y="1457.6" width="8.2" height="8.2" fill="none" stroke="#20b2aa" stroke-width="1.5"/>
<rect x="515.9" y="1511.9" width="8.2" height="8.2" fill="none" stroke="#20b2aa" stroke-width="1.5"/>
<rect x="445.5" y="1528.2" width="8.2" height="8.2" fill="none" stroke="#20b2aa" stroke-width="1.5"/>
<rect x="410.8" y="1534.8" width="8.2" height="8.2" fill="none" stroke="#20b2aa" stroke-width="1.5"/>
<rect x="309.8" y="1598.9" width="8.2" height="8.2" fill="none" stroke="#20b2aa" stroke-width="1.5"/>
<rect x="207.9" y="1350.5" width="8.2" height="8.2" fill="none" stroke="#1a1aff" stroke-width="1.5"/>
<rect x="221" y="1423" width="8.2" height="8.2" fill="none" stroke="#1a1aff" stroke-width="1.5"/>
<rect x="285.1" y="1434.9" width="8.2" height="8.2" fill="none" stroke="#1a1aff" stroke-width="1.5"/>
<rect x="248.2" y="1456.6" width="8.2" height="8.2" fill="none" stroke="#1a1aff" stroke-width="1.5"/>
<rect x="249" y="1476.4" width="8.2" height="8.2" fill="none" stroke="#1a1aff" stroke-width="1.5"/>
<rect x="236.1" y="1499.9" width="8.2" height="8.2" fill="none" stroke="#1a1aff" stroke-width="1.5"/>
<rect x="294.8" y="1508.8" width="8.2" height="8.2" fill="none" stroke="#1a1aff" stroke-width="1.5"/>
<rect x="329.6" y="1494.8" width="8.2" height="8.2" fill="none" stroke="#1a1aff" stroke-width="1.5"/>
<rect x="239.7" y="1563.8" width="8.2" height="8.2" fill="none" stroke="#1a1aff" stroke-width="1.5"/>
<rect x="294.8" y="1583.5" width="8.2" height="8.2" fill="none" stroke="#1a1aff" stroke-width="1.5"/>
<rect x="362.8" y="1406.7" width="8.2" height="8.2" fill="none" stroke="#dc143c" stroke-width="1.5"/>
<rect x="372.8" y="1397.1" width="8.2" height="8.2" fill="none" stroke="#dc143c" stroke-width="1.5"/>
<rect x="390" y="1392.8" width="8.2" height="8.2" fill="none" stroke="#dc143c" stroke-width="1.5"/>
<rect x="388.9" y="1406.7" width="8.2" height="8.2" fill="none" stroke="#dc143c" stroke-width="1.5"/>
<rect x="396.7" y="1414.4" width="8.2" height="8.2" fill="none" stroke="#dc143c" stroke-width="1.5"/>
<rect x="401.9" y="1420.1" width="8.2" height="8.2" fill="none" stroke="#dc143c" stroke-width="1.5"/>
<rect x="415.1" y="1416.4" width="8.2" height="8.2" fill="none" stroke="#dc143c" stroke-width="1.5"/>
<rect x="416" y="1429.7" width="8.2" height="8.2" fill="none" stroke="#dc143c" stroke-width="1.5"/>
<rect x="459.6" y="1401.3" width="8.2" height="8.2" fill="none" stroke="#dc143c" stroke-width="1.5"/>
<rect x="411.8" y="1477.2" width="8.2" height="8.2" fill="none" stroke="#dc143c" stroke-width="1.5"/>
<text x="337" y="1313.1" font-size="21.7" font-family="Liberation Sans, Arial, sans-serif" fill="#222" text-anchor="start" >stress = 0.122</text>
<text x="364.6" y="1839" font-size="26" font-family="Liberation Sans, Arial, sans-serif" fill="#222" text-anchor="middle" >MDS1</text>
<text x="23.4" y="1497" font-size="26.5" font-family="Liberation Sans, Arial, sans-serif" fill="#222" text-anchor="middle" transform="rotate(-90 23.4 1497)" >MDS2</text>
<text x="2.2" y="1282.2" font-size="65" font-family="Liberation Sans, Arial, sans-serif" fill="#333" text-anchor="start" >F</text>
<rect x="195.6" y="1242.7" width="8.4" height="8.4" fill="none" stroke="#7a5cf5" stroke-width="1.3"/>
<text x="218.3" y="1254.7" font-size="26.8" font-family="Liberation Sans, Arial, sans-serif" fill="#222" text-anchor="start" >Con</text>
<rect x="294.5" y="1242.7" width="8.4" height="8.4" fill="none" stroke="#fa7a68" stroke-width="1.3"/>
<text x="316.8" y="1254.7" font-size="26.8" font-family="Liberation Sans, Arial, sans-serif" fill="#222" text-anchor="start" >UC</text>
<rect x="385.7" y="1242.7" width="8.4" height="8.4" fill="none" stroke="#1f6e9e" stroke-width="1.3"/>
<text x="408.6" y="1254.7" font-size="26.8" font-family="Liberation Sans, Arial, sans-serif" fill="#222" text-anchor="start" >CIM</text>
<rect x="186.9" y="1875.4" width="8.4" height="8.4" fill="none" stroke="#dc143c" stroke-width="1.3"/>
<text x="209" y="1887.7" font-size="26.6" font-family="Liberation Sans, Arial, sans-serif" fill="#222" text-anchor="start" >Con</text>
<rect x="284.4" y="1875.4" width="8.4" height="8.4" fill="none" stroke="#1a1aff" stroke-width="1.3"/>
<text x="306.1" y="1887.7" font-size="26.6" font-family="Liberation Sans, Arial, sans-serif" fill="#222" text-anchor="start" >UC</text>
<rect x="374.5" y="1875.4" width="8.4" height="8.4" fill="none" stroke="#20b2aa" stroke-width="1.3"/>
<text x="396.6" y="1887.7" font-size="26.6" font-family="Liberation Sans, Arial, sans-serif" fill="#222" text-anchor="start" >CIM</text>
<!-- panelG -->
<rect x="1007.5" y="1264.7" width="255.7" height="20.9" fill="#008000" stroke="#000" stroke-width="1.8" />
<text x="998.5" y="1282.7" font-size="14.4" font-family="DejaVu Sans, sans-serif" fill="#000" text-anchor="end" >f__Streptococcaceae</text>
<rect x="1007.5" y="1290.8" width="240.6" height="20.9" fill="#008000" stroke="#000" stroke-width="1.8" />
<text x="998.5" y="1308.8" font-size="14.4" font-family="DejaVu Sans, sans-serif" fill="#000" text-anchor="end" >g__Lactococcus</text>
<rect x="1007.5" y="1316.9" width="240.6" height="20.9" fill="#008000" stroke="#000" stroke-width="1.8" />
<text x="998.5" y="1334.9" font-size="14.4" font-family="DejaVu Sans, sans-serif" fill="#000" text-anchor="end" >s__Lactococcus_garvieae</text>
<rect x="1007.5" y="1343" width="239" height="20.9" fill="#008000" stroke="#000" stroke-width="1.8" />
<text x="998.5" y="1361" font-size="14.4" font-family="DejaVu Sans, sans-serif" fill="#000" text-anchor="end" >s__Bacteroides_vulgatus</text>
<rect x="1007.5" y="1369.1" width="232.7" height="20.9" fill="#008000" stroke="#000" stroke-width="1.8" />
<text x="998.5" y="1387.1" font-size="14.4" font-family="DejaVu Sans, sans-serif" fill="#000" text-anchor="end" >f__Morganellaceae</text>
<rect x="1007.5" y="1395.2" width="232.7" height="20.9" fill="#008000" stroke="#000" stroke-width="1.8" />
<text x="998.5" y="1413.2" font-size="14.4" font-family="DejaVu Sans, sans-serif" fill="#000" text-anchor="end" >g__Proteus</text>
<rect x="1007.5" y="1421.3" width="232.7" height="20.9" fill="#008000" stroke="#000" stroke-width="1.8" />
<text x="998.5" y="1439.3" font-size="14.4" font-family="DejaVu Sans, sans-serif" fill="#000" text-anchor="end" >s__Proteus_mirabilis</text>
<rect x="1007.5" y="1447.4" width="221.2" height="20.9" fill="#008000" stroke="#000" stroke-width="1.8" />
<text x="998.5" y="1465.4" font-size="14.4" font-family="DejaVu Sans, sans-serif" fill="#000" text-anchor="end" >s__Phaseolus_vulgaris</text>
<rect x="1007.5" y="1473.5" width="212.1" height="20.9" fill="#008000" stroke="#000" stroke-width="1.8" />
<text x="998.5" y="1491.5" font-size="14.4" font-family="DejaVu Sans, sans-serif" fill="#000" text-anchor="end" >g__unidentified_Chloroplast</text>
<rect x="1007.5" y="1499.6" width="212.1" height="20.9" fill="#008000" stroke="#000" stroke-width="1.8" />
<text x="998.5" y="1517.6" font-size="14.4" font-family="DejaVu Sans, sans-serif" fill="#000" text-anchor="end" >o__Chloroplast</text>
<rect x="1007.5" y="1525.7" width="212.1" height="20.9" fill="#008000" stroke="#000" stroke-width="1.8" />
<text x="998.5" y="1543.7" font-size="14.4" font-family="DejaVu Sans, sans-serif" fill="#000" text-anchor="end" >f__unidentified_Chloroplast</text>
<rect x="1007.5" y="1551.8" width="212.1" height="20.9" fill="#008000" stroke="#000" stroke-width="1.8" />
<text x="998.5" y="1569.8" font-size="14.4" font-family="DejaVu Sans, sans-serif" fill="#000" text-anchor="end" >c__Cyanobacteriia</text>
<rect x="1007.5" y="1577.9" width="206.8" height="20.9" fill="#008000" stroke="#000" stroke-width="1.8" />
<text x="998.5" y="1595.9" font-size="14.4" font-family="DejaVu Sans, sans-serif" fill="#000" text-anchor="end" >g__ASF356</text>
<rect x="798.8" y="1604" width="208.7" height="20.9" fill="#ff0000" stroke="#000" stroke-width="1.8" />
<text x="1016" y="1622" font-size="14.4" font-family="DejaVu Sans, sans-serif" fill="#000" text-anchor="start" >g__Lachnospiraceae_FCS020_group</text>
<rect x="798" y="1630.1" width="209.5" height="20.9" fill="#ff0000" stroke="#000" stroke-width="1.8" />
<text x="1016" y="1648.1" font-size="14.4" font-family="DejaVu Sans, sans-serif" fill="#000" text-anchor="start" >g___Eubacterium__siraeum_group</text>
<rect x="780.2" y="1656.2" width="227.3" height="20.9" fill="#ff0000" stroke="#000" stroke-width="1.8" />
<text x="1016" y="1674.2" font-size="14.4" font-family="DejaVu Sans, sans-serif" fill="#000" text-anchor="start" >g__Muribaculum</text>
<rect x="769.5" y="1682.3" width="238" height="20.9" fill="#ff0000" stroke="#000" stroke-width="1.8" />
<text x="1016" y="1700.3" font-size="14.4" font-family="DejaVu Sans, sans-serif" fill="#000" text-anchor="start" >g__Marvinbryantia</text>
<rect x="737.5" y="1708.4" width="270" height="20.9" fill="#ff0000" stroke="#000" stroke-width="1.8" />
<text x="1016" y="1726.4" font-size="14.4" font-family="DejaVu Sans, sans-serif" fill="#000" text-anchor="start" >g__Alloprevotella</text>
<rect x="716.5" y="1734.5" width="291" height="20.9" fill="#ff0000" stroke="#000" stroke-width="1.8" />
<text x="1016" y="1752.5" font-size="14.4" font-family="DejaVu Sans, sans-serif" fill="#000" text-anchor="start" >f__Prevotellaceae</text>
<rect x="707" y="1760.6" width="300.5" height="20.9" fill="#ff0000" stroke="#000" stroke-width="1.8" />
<text x="1016" y="1778.6" font-size="14.4" font-family="DejaVu Sans, sans-serif" fill="#000" text-anchor="start" >o__Clostridia_UCG_014</text>
<rect x="672.4" y="1786.7" width="335.1" height="20.9" fill="#ff0000" stroke="#000" stroke-width="1.8" />
<text x="1016" y="1804.7" font-size="14.4" font-family="DejaVu Sans, sans-serif" fill="#000" text-anchor="start" >f__Muribaculaceae</text>
<line x1="663.75" y1="1255.45" x2="663.75" y2="1813" stroke="#000" stroke-width="1.5" stroke-dasharray="1.8 6.35"/>
<line x1="663.75" y1="1249.5" x2="663.75" y2="1257.5" stroke="#000" stroke-width="1.4" />
<line x1="663.75" y1="1813.5" x2="663.75" y2="1823" stroke="#000" stroke-width="1.4" />
<text x="664.15" y="1849.3" font-size="23.6" font-family="DejaVu Sans, sans-serif" fill="#000" text-anchor="middle" >−5</text>
<line x1="732.5" y1="1255.45" x2="732.5" y2="1813" stroke="#000" stroke-width="1.5" stroke-dasharray="1.8 6.35"/>
<line x1="732.5" y1="1249.5" x2="732.5" y2="1257.5" stroke="#000" stroke-width="1.4" />
<line x1="732.5" y1="1813.5" x2="732.5" y2="1823" stroke="#000" stroke-width="1.4" />
<text x="732.9" y="1849.3" font-size="23.6" font-family="DejaVu Sans, sans-serif" fill="#000" text-anchor="middle" >−4</text>
<line x1="801.25" y1="1255.45" x2="801.25" y2="1813" stroke="#000" stroke-width="1.5" stroke-dasharray="1.8 6.35"/>
<line x1="801.25" y1="1249.5" x2="801.25" y2="1257.5" stroke="#000" stroke-width="1.4" />
<line x1="801.25" y1="1813.5" x2="801.25" y2="1823" stroke="#000" stroke-width="1.4" />
<text x="801.65" y="1849.3" font-size="23.6" font-family="DejaVu Sans, sans-serif" fill="#000" text-anchor="middle" >−3</text>
<line x1="870" y1="1255.45" x2="870" y2="1813" stroke="#000" stroke-width="1.5" stroke-dasharray="1.8 6.35"/>
<line x1="870" y1="1249.5" x2="870" y2="1257.5" stroke="#000" stroke-width="1.4" />
<line x1="870" y1="1813.5" x2="870" y2="1823" stroke="#000" stroke-width="1.4" />
<text x="870.4" y="1849.3" font-size="23.6" font-family="DejaVu Sans, sans-serif" fill="#000" text-anchor="middle" >−2</text>
<line x1="938.75" y1="1255.45" x2="938.75" y2="1813" stroke="#000" stroke-width="1.5" stroke-dasharray="1.8 6.35"/>
<line x1="938.75" y1="1249.5" x2="938.75" y2="1257.5" stroke="#000" stroke-width="1.4" />
<line x1="938.75" y1="1813.5" x2="938.75" y2="1823" stroke="#000" stroke-width="1.4" />
<text x="939.15" y="1849.3" font-size="23.6" font-family="DejaVu Sans, sans-serif" fill="#000" text-anchor="middle" >−1</text>
<line x1="1007.5" y1="1255.45" x2="1007.5" y2="1813" stroke="#000" stroke-width="1.5" stroke-dasharray="1.8 6.35"/>
<line x1="1007.5" y1="1249.5" x2="1007.5" y2="1257.5" stroke="#000" stroke-width="1.4" />
<line x1="1007.5" y1="1813.5" x2="1007.5" y2="1823" stroke="#000" stroke-width="1.4" />
<text x="1007.9" y="1849.3" font-size="23.6" font-family="DejaVu Sans, sans-serif" fill="#000" text-anchor="middle" >0</text>
<line x1="1076.25" y1="1255.45" x2="1076.25" y2="1813" stroke="#000" stroke-width="1.5" stroke-dasharray="1.8 6.35"/>
<line x1="1076.25" y1="1249.5" x2="1076.25" y2="1257.5" stroke="#000" stroke-width="1.4" />
<line x1="1076.25" y1="1813.5" x2="1076.25" y2="1823" stroke="#000" stroke-width="1.4" />
<text x="1076.65" y="1849.3" font-size="23.6" font-family="DejaVu Sans, sans-serif" fill="#000" text-anchor="middle" >1</text>
<line x1="1145" y1="1255.45" x2="1145" y2="1813" stroke="#000" stroke-width="1.5" stroke-dasharray="1.8 6.35"/>
<line x1="1145" y1="1249.5" x2="1145" y2="1257.5" stroke="#000" stroke-width="1.4" />
<line x1="1145" y1="1813.5" x2="1145" y2="1823" stroke="#000" stroke-width="1.4" />
<text x="1145.4" y="1849.3" font-size="23.6" font-family="DejaVu Sans, sans-serif" fill="#000" text-anchor="middle" >2</text>
<line x1="1213.75" y1="1255.45" x2="1213.75" y2="1813" stroke="#000" stroke-width="1.5" stroke-dasharray="1.8 6.35"/>
<line x1="1213.75" y1="1249.5" x2="1213.75" y2="1257.5" stroke="#000" stroke-width="1.4" />
<line x1="1213.75" y1="1813.5" x2="1213.75" y2="1823" stroke="#000" stroke-width="1.4" />
<text x="1214.15" y="1849.3" font-size="23.6" font-family="DejaVu Sans, sans-serif" fill="#000" text-anchor="middle" >3</text>
<line x1="1282.5" y1="1255.45" x2="1282.5" y2="1813" stroke="#000" stroke-width="1.5" stroke-dasharray="1.8 6.35"/>
<line x1="1282.5" y1="1249.5" x2="1282.5" y2="1257.5" stroke="#000" stroke-width="1.4" />
<line x1="1282.5" y1="1813.5" x2="1282.5" y2="1823" stroke="#000" stroke-width="1.4" />
<text x="1282.9" y="1849.3" font-size="23.6" font-family="DejaVu Sans, sans-serif" fill="#000" text-anchor="middle" >4</text>
<text x="973.5" y="1884.1" font-size="24.7" font-family="DejaVu Sans, sans-serif" fill="#000" text-anchor="middle" >LDA SCORE (log 10)</text>
<rect x="671.3" y="1210.5" width="42.1" height="15.1" fill="#ff0000" stroke="#000" stroke-width="1.6" />
<text x="729.2" y="1225.3" font-size="19.4" font-family="DejaVu Sans, sans-serif" fill="#000" text-anchor="start" >CIM</text>
<rect x="807.3" y="1210.5" width="42.1" height="15.1" fill="#008000" stroke="#000" stroke-width="1.6" />
<text x="865.6" y="1225.3" font-size="19.4" font-family="DejaVu Sans, sans-serif" fill="#000" text-anchor="start" >UC</text>
<text x="648.5" y="1281.7" font-size="64" font-family="Liberation Sans, Arial, sans-serif" fill="#333" text-anchor="start" >G</text>
<!-- panelH -->
<line x1="1408.8" y1="1252.6" x2="1408.8" y2="1594.6" stroke="#c5cbee" stroke-width="1.5" />
<line x1="1408.8" y1="1594.6" x2="1882" y2="1594.6" stroke="#c5cbee" stroke-width="1.5" />
<text x="1391.8" y="1605.6" font-size="24.6" font-family="Liberation Sans, Arial, sans-serif" fill="#222" text-anchor="end" >0</text>
<text x="1391.8" y="1537.2" font-size="24.6" font-family="Liberation Sans, Arial, sans-serif" fill="#222" text-anchor="end" >20</text>
<text x="1391.8" y="1468.8" font-size="24.6" font-family="Liberation Sans, Arial, sans-serif" fill="#222" text-anchor="end" >40</text>
<text x="1391.8" y="1400.4" font-size="24.6" font-family="Liberation Sans, Arial, sans-serif" fill="#222" text-anchor="end" >60</text>
<text x="1391.8" y="1332" font-size="24.6" font-family="Liberation Sans, Arial, sans-serif" fill="#222" text-anchor="end" >80</text>
<text x="1391.8" y="1263.6" font-size="24.6" font-family="Liberation Sans, Arial, sans-serif" fill="#222" text-anchor="end" >100</text>
<rect x="1453.3" y="1398.4" width="79.5" height="196.2" fill="#7b68ee" stroke="none" stroke-width="1" />
<rect x="1453.3" y="1271.2" width="79.5" height="127.2" fill="#fa8072" stroke="none" stroke-width="1" />
<rect x="1453.3" y="1269.9" width="79.5" height="1.5" fill="#ff00ff" stroke="none" stroke-width="1" />
<rect x="1453.3" y="1256" width="79.5" height="13.9" fill="#ffff00" stroke="none" stroke-width="1" />
<rect x="1453.3" y="1254.6" width="79.5" height="1.4" fill="#7cfc00" stroke="none" stroke-width="1" />
<rect x="1453.3" y="1253.6" width="79.5" height="1" fill="#98fb98" stroke="none" stroke-width="1" />
<rect x="1453.3" y="1252" width="79.5" height="1.6" fill="#f08080" stroke="none" stroke-width="1" />
<rect x="1619.3" y="1366.1" width="80" height="228.5" fill="#7b68ee" stroke="none" stroke-width="1" />
<rect x="1619.3" y="1269.9" width="80" height="96.2" fill="#fa8072" stroke="none" stroke-width="1" />
<rect x="1619.3" y="1268.5" width="80" height="1.6" fill="#ff00ff" stroke="none" stroke-width="1" />
<rect x="1619.3" y="1256" width="80" height="12.5" fill="#ffff00" stroke="none" stroke-width="1" />
<rect x="1619.3" y="1255.2" width="80" height="0.8" fill="#7cfc00" stroke="none" stroke-width="1" />
<rect x="1619.3" y="1254.2" width="80" height="1" fill="#9370db" stroke="none" stroke-width="1" />
<rect x="1619.3" y="1253.6" width="80" height="0.6" fill="#1e90ff" stroke="none" stroke-width="1" />
<rect x="1619.3" y="1252" width="80" height="1.6" fill="#98fb98" stroke="none" stroke-width="1" />
<rect x="1786" y="1478.2" width="80.1" height="116.4" fill="#7b68ee" stroke="none" stroke-width="1" />
<rect x="1786" y="1278.7" width="80.1" height="199.5" fill="#fa8072" stroke="none" stroke-width="1" />
<rect x="1786" y="1264" width="80.1" height="14.7" fill="#ff00ff" stroke="none" stroke-width="1" />
<rect x="1786" y="1259.2" width="80.1" height="4.8" fill="#7cfc00" stroke="none" stroke-width="1" />
<rect x="1786" y="1253.9" width="80.1" height="5.3" fill="#1e90ff" stroke="none" stroke-width="1" />
<rect x="1786" y="1252" width="80.1" height="1.9" fill="#f08080" stroke="none" stroke-width="1" />
<text x="1493.1" y="1632.2" font-size="30.3" font-family="Liberation Sans, Arial, sans-serif" fill="#222" text-anchor="middle" >CIM</text>
<text x="1659.3" y="1632.2" font-size="30.3" font-family="Liberation Sans, Arial, sans-serif" fill="#222" text-anchor="middle" >UC</text>
<text x="1826" y="1632.2" font-size="30.3" font-family="Liberation Sans, Arial, sans-serif" fill="#222" text-anchor="middle" >Con</text>
<text x="1318.9" y="1423" font-size="26" font-family="Liberation Sans, Arial, sans-serif" fill="#222" text-anchor="middle" transform="rotate(-90 1318.9 1423)" >Relative Abundance</text>
<text x="1293.7" y="1279.8" font-size="64" font-family="Liberation Sans, Arial, sans-serif" fill="#333" text-anchor="start" >H</text>
<circle cx="1382" cy="1669.3" r="12.6" fill="#ffa500"/>
<text x="1401.4" y="1680.9" font-size="25.6" font-family="Liberation Sans, Arial, sans-serif" fill="#222" text-anchor="start" >Others</text>
<circle cx="1382" cy="1698.2" r="12.6" fill="#98fb98"/>
<text x="1401.4" y="1709.8" font-size="25.6" font-family="Liberation Sans, Arial, sans-serif" fill="#222" text-anchor="start" >Cyanobacteria</text>
<circle cx="1382" cy="1727.1" r="12.6" fill="#1e90ff"/>
<text x="1401.4" y="1738.7" font-size="25.6" font-family="Liberation Sans, Arial, sans-serif" fill="#222" text-anchor="start" >Patescibacteria</text>
<circle cx="1382" cy="1756" r="12.6" fill="#808000"/>
<text x="1401.4" y="1767.6" font-size="25.6" font-family="Liberation Sans, Arial, sans-serif" fill="#222" text-anchor="start" >Deferribacterota</text>
<circle cx="1382" cy="1784.9" r="12.6" fill="#ff00ff"/>
<text x="1401.4" y="1796.5" font-size="25.6" font-family="Liberation Sans, Arial, sans-serif" fill="#222" text-anchor="start" >Verrucomicrobiota</text>
<circle cx="1382" cy="1813.8" r="12.6" fill="#7b68ee"/>
<text x="1401.4" y="1825.4" font-size="25.6" font-family="Liberation Sans, Arial, sans-serif" fill="#222" text-anchor="start" >Firmicutes</text>
<circle cx="1627.5" cy="1669.3" r="12.6" fill="#9370db"/>
<text x="1647" y="1680.9" font-size="25.6" font-family="Liberation Sans, Arial, sans-serif" fill="#222" text-anchor="start" >Acidobacteriota</text>
<circle cx="1627.5" cy="1698.2" r="12.6" fill="#f08080"/>
<text x="1647" y="1709.8" font-size="25.6" font-family="Liberation Sans, Arial, sans-serif" fill="#222" text-anchor="start" >Desulfobacterota</text>
<circle cx="1627.5" cy="1727.1" r="12.6" fill="#7cfc00"/>
<text x="1647" y="1738.7" font-size="25.6" font-family="Liberation Sans, Arial, sans-serif" fill="#222" text-anchor="start" >Actinobacteriota</text>
<circle cx="1627.5" cy="1756" r="12.6" fill="#ffff00"/>
<text x="1647" y="1767.6" font-size="25.6" font-family="Liberation Sans, Arial, sans-serif" fill="#222" text-anchor="start" >Proteobacteria</text>
<circle cx="1627.5" cy="1784.9" r="12.6" fill="#fa8072"/>
<text x="1647" y="1796.5" font-size="25.6" font-family="Liberation Sans, Arial, sans-serif" fill="#222" text-anchor="start" >Bacteroidota</text>
<!-- panelI -->
<rect x="37.8" y="1917.3" width="133" height="34.65" fill="#fdb870" stroke="#a3a3a3" stroke-width="1.1" />
<rect x="170.8" y="1917.3" width="133.5" height="34.65" fill="#dfeaeb" stroke="#a3a3a3" stroke-width="1.1" />
<rect x="304.3" y="1917.3" width="133.2" height="34.65" fill="#93b9bb" stroke="#a3a3a3" stroke-width="1.1" />
<text x="453.6" y="1941.23" font-size="15.9" font-family="Liberation Sans, Arial, sans-serif" fill="#222" text-anchor="start" >Bacteroidota</text>
<rect x="37.8" y="1951.95" width="133" height="34.65" fill="#fdb870" stroke="#a3a3a3" stroke-width="1.1" />
<rect x="170.8" y="1951.95" width="133.5" height="34.65" fill="#a9c8ca" stroke="#a3a3a3" stroke-width="1.1" />
<rect x="304.3" y="1951.95" width="133.2" height="34.65" fill="#c2d9da" stroke="#a3a3a3" stroke-width="1.1" />
<text x="453.6" y="1975.88" font-size="15.9" font-family="Liberation Sans, Arial, sans-serif" fill="#222" text-anchor="start" >Deferribacterota</text>
<rect x="37.8" y="1986.61" width="133" height="34.65" fill="#fdb870" stroke="#a3a3a3" stroke-width="1.1" />
<rect x="170.8" y="1986.61" width="133.5" height="34.65" fill="#b8d3d4" stroke="#a3a3a3" stroke-width="1.1" />
<rect x="304.3" y="1986.61" width="133.2" height="34.65" fill="#b2cfd0" stroke="#a3a3a3" stroke-width="1.1" />
<text x="453.6" y="2010.53" font-size="15.9" font-family="Liberation Sans, Arial, sans-serif" fill="#222" text-anchor="start" >Patescibacteria</text>
<rect x="37.8" y="2021.26" width="133" height="34.65" fill="#fdb870" stroke="#a3a3a3" stroke-width="1.1" />
<rect x="170.8" y="2021.26" width="133.5" height="34.65" fill="#bad4d5" stroke="#a3a3a3" stroke-width="1.1" />
<rect x="304.3" y="2021.26" width="133.2" height="34.65" fill="#afcdce" stroke="#a3a3a3" stroke-width="1.1" />
<text x="453.6" y="2045.19" font-size="15.9" font-family="Liberation Sans, Arial, sans-serif" fill="#222" text-anchor="start" >Actinobacteriota</text>
<rect x="37.8" y="2055.91" width="133" height="34.65" fill="#fdb870" stroke="#a3a3a3" stroke-width="1.1" />
<rect x="170.8" y="2055.91" width="133.5" height="34.65" fill="#b6d1d2" stroke="#a3a3a3" stroke-width="1.1" />
<rect x="304.3" y="2055.91" width="133.2" height="34.65" fill="#b6d1d2" stroke="#a3a3a3" stroke-width="1.1" />
<text x="453.6" y="2079.84" font-size="15.9" font-family="Liberation Sans, Arial, sans-serif" fill="#222" text-anchor="start" >Armatimonadota</text>
<rect x="37.8" y="2090.57" width="133" height="34.65" fill="#fdb870" stroke="#a3a3a3" stroke-width="1.1" />
<rect x="170.8" y="2090.57" width="133.5" height="34.65" fill="#b3cfd1" stroke="#a3a3a3" stroke-width="1.1" />
<rect x="304.3" y="2090.57" width="133.2" height="34.65" fill="#bad4d5" stroke="#a3a3a3" stroke-width="1.1" />
<text x="453.6" y="2114.49" font-size="15.9" font-family="Liberation Sans, Arial, sans-serif" fill="#222" text-anchor="start" >Verrucomicrobiota</text>
<rect x="37.8" y="2125.22" width="133" height="34.65" fill="#b7d2d3" stroke="#a3a3a3" stroke-width="1.1" />
<rect x="170.8" y="2125.22" width="133.5" height="34.65" fill="#b6d1d2" stroke="#a3a3a3" stroke-width="1.1" />
<rect x="304.3" y="2125.22" width="133.2" height="34.65" fill="#fdb870" stroke="#a3a3a3" stroke-width="1.1" />
<text x="453.6" y="2149.15" font-size="15.9" font-family="Liberation Sans, Arial, sans-serif" fill="#222" text-anchor="start" >Planctomycetota</text>
<rect x="37.8" y="2159.87" width="133" height="34.65" fill="#b7d2d3" stroke="#a3a3a3" stroke-width="1.1" />
<rect x="170.8" y="2159.87" width="133.5" height="34.65" fill="#b5d1d2" stroke="#a3a3a3" stroke-width="1.1" />
<rect x="304.3" y="2159.87" width="133.2" height="34.65" fill="#fdb870" stroke="#a3a3a3" stroke-width="1.1" />
<text x="453.6" y="2183.8" font-size="15.9" font-family="Liberation Sans, Arial, sans-serif" fill="#222" text-anchor="start" >Myxococcota</text>
<rect x="37.8" y="2194.53" width="133" height="34.65" fill="#b7d2d3" stroke="#a3a3a3" stroke-width="1.1" />
<rect x="170.8" y="2194.53" width="133.5" height="34.65" fill="#b5d1d2" stroke="#a3a3a3" stroke-width="1.1" />
<rect x="304.3" y="2194.53" width="133.2" height="34.65" fill="#fdb870" stroke="#a3a3a3" stroke-width="1.1" />
<text x="453.6" y="2218.45" font-size="15.9" font-family="Liberation Sans, Arial, sans-serif" fill="#222" text-anchor="start" >Acidobacteriota</text>
<rect x="37.8" y="2229.18" width="133" height="34.65" fill="#a1c3c5" stroke="#a3a3a3" stroke-width="1.1" />
<rect x="170.8" y="2229.18" width="133.5" height="34.65" fill="#cbe0e1" stroke="#a3a3a3" stroke-width="1.1" />
<rect x="304.3" y="2229.18" width="133.2" height="34.65" fill="#fdb870" stroke="#a3a3a3" stroke-width="1.1" />
<text x="453.6" y="2253.11" font-size="15.9" font-family="Liberation Sans, Arial, sans-serif" fill="#222" text-anchor="start" >Cyanobacteria</text>
<rect x="37.8" y="2263.83" width="133" height="34.65" fill="#92b9bb" stroke="#a3a3a3" stroke-width="1.1" />
<rect x="170.8" y="2263.83" width="133.5" height="34.65" fill="#e3eced" stroke="#a3a3a3" stroke-width="1.1" />
<rect x="304.3" y="2263.83" width="133.2" height="34.65" fill="#fdb870" stroke="#a3a3a3" stroke-width="1.1" />
<text x="453.6" y="2287.76" font-size="15.9" font-family="Liberation Sans, Arial, sans-serif" fill="#222" text-anchor="start" >Gemmatimonadota</text>
<rect x="37.8" y="2298.49" width="133" height="34.65" fill="#6fa5a6" stroke="#a3a3a3" stroke-width="1.1" />
<rect x="170.8" y="2298.49" width="133.5" height="34.65" fill="#fdcc9a" stroke="#a3a3a3" stroke-width="1.1" />
<rect x="304.3" y="2298.49" width="133.2" height="34.65" fill="#feead6" stroke="#a3a3a3" stroke-width="1.1" />
<text x="453.6" y="2322.41" font-size="15.9" font-family="Liberation Sans, Arial, sans-serif" fill="#222" text-anchor="start" >Chloroflexi</text>
<rect x="37.8" y="2333.14" width="133" height="34.65" fill="#70a6a7" stroke="#a3a3a3" stroke-width="1.1" />
<rect x="170.8" y="2333.14" width="133.5" height="34.65" fill="#fdcd9d" stroke="#a3a3a3" stroke-width="1.1" />
<rect x="304.3" y="2333.14" width="133.2" height="34.65" fill="#feead6" stroke="#a3a3a3" stroke-width="1.1" />
<text x="453.6" y="2357.07" font-size="15.9" font-family="Liberation Sans, Arial, sans-serif" fill="#222" text-anchor="start" >Proteobacteria</text>
<rect x="37.8" y="2367.79" width="133" height="34.65" fill="#79abac" stroke="#a3a3a3" stroke-width="1.1" />
<rect x="170.8" y="2367.79" width="133.5" height="34.65" fill="#fff7f0" stroke="#a3a3a3" stroke-width="1.1" />
<rect x="304.3" y="2367.79" width="133.2" height="34.65" fill="#fdc590" stroke="#a3a3a3" stroke-width="1.1" />
<text x="453.6" y="2391.72" font-size="15.9" font-family="Liberation Sans, Arial, sans-serif" fill="#222" text-anchor="start" >Desulfobacterota</text>
<rect x="37.8" y="2402.45" width="133" height="34.65" fill="#70a6a7" stroke="#a3a3a3" stroke-width="1.1" />
<rect x="170.8" y="2402.45" width="133.5" height="34.65" fill="#feecdc" stroke="#a3a3a3" stroke-width="1.1" />
<rect x="304.3" y="2402.45" width="133.2" height="34.65" fill="#fdca98" stroke="#a3a3a3" stroke-width="1.1" />
<text x="453.6" y="2426.37" font-size="15.9" font-family="Liberation Sans, Arial, sans-serif" fill="#222" text-anchor="start" >Firmicutes</text>
<defs><linearGradient id="cb" x1="0" y1="0" x2="0" y2="1"><stop offset="0" stop-color="#ff8000"/><stop offset="0.25" stop-color="#ffbf80"/><stop offset="0.5" stop-color="#ffffff"/><stop offset="0.75" stop-color="#88b2b2"/><stop offset="1" stop-color="#0f5f5f"/></linearGradient></defs>
<rect x="595.4" y="1928.7" width="10.4" height="198.9" fill="url(#cb)" stroke="none" stroke-width="1" />
<text x="608.4" y="1934.7" font-size="11.5" font-family="Liberation Sans, Arial, sans-serif" fill="#222" text-anchor="start" >2</text>
<text x="608.4" y="1985" font-size="11.5" font-family="Liberation Sans, Arial, sans-serif" fill="#222" text-anchor="start" >1</text>
<text x="608.4" y="2035.6" font-size="11.5" font-family="Liberation Sans, Arial, sans-serif" fill="#222" text-anchor="start" >0</text>
<text x="608.4" y="2084.5" font-size="11.5" font-family="Liberation Sans, Arial, sans-serif" fill="#222" text-anchor="start" >-1</text>
<text x="608.4" y="2133.1" font-size="11.5" font-family="Liberation Sans, Arial, sans-serif" fill="#222" text-anchor="start" >-2</text>
<text x="96.7" y="2450.6" font-size="24.8" font-family="Liberation Sans, Arial, sans-serif" fill="#222" text-anchor="start" transform="rotate(90 96.7 2450.6)" >Con</text>
<text x="230.1" y="2450.6" font-size="24.8" font-family="Liberation Sans, Arial, sans-serif" fill="#222" text-anchor="start" transform="rotate(90 230.1 2450.6)" >CIM</text>
<text x="363.7" y="2450.6" font-size="24.8" font-family="Liberation Sans, Arial, sans-serif" fill="#222" text-anchor="start" transform="rotate(90 363.7 2450.6)" >UC</text>
<text x="2.1" y="1973.9" font-size="64.5" font-family="Liberation Sans, Arial, sans-serif" fill="#222" text-anchor="start" >I</text>
<!-- panelJ -->
<line x1="1034.56" y1="2266.48" x2="1476.56" y2="2266.48" stroke="#c6d1ec" stroke-width="1.4" stroke-dasharray="8 6"/>
<line x1="1421.3" y1="2351" x2="1200.34" y2="2012.92" stroke="#c6d1ec" stroke-width="1.4" stroke-dasharray="8 6"/>
<line x1="1089.8" y1="2351" x2="1310.84" y2="2012.92" stroke="#c6d1ec" stroke-width="1.4" stroke-dasharray="8 6"/>
<line x1="1089.82" y1="2181.96" x2="1421.32" y2="2181.96" stroke="#c6d1ec" stroke-width="1.4" stroke-dasharray="8 6"/>
<line x1="1310.8" y1="2351" x2="1145.08" y2="2097.44" stroke="#c6d1ec" stroke-width="1.4" stroke-dasharray="8 6"/>
<line x1="1200.3" y1="2351" x2="1366.08" y2="2097.44" stroke="#c6d1ec" stroke-width="1.4" stroke-dasharray="8 6"/>
<line x1="1145.08" y1="2097.44" x2="1366.08" y2="2097.44" stroke="#c6d1ec" stroke-width="1.4" stroke-dasharray="8 6"/>
<line x1="1200.3" y1="2351" x2="1089.82" y2="2181.96" stroke="#c6d1ec" stroke-width="1.4" stroke-dasharray="8 6"/>
<line x1="1310.8" y1="2351" x2="1421.32" y2="2181.96" stroke="#c6d1ec" stroke-width="1.4" stroke-dasharray="8 6"/>
<line x1="1200.34" y1="2012.92" x2="1310.84" y2="2012.92" stroke="#c6d1ec" stroke-width="1.4" stroke-dasharray="8 6"/>
<line x1="1089.8" y1="2351" x2="1034.56" y2="2266.48" stroke="#c6d1ec" stroke-width="1.4" stroke-dasharray="8 6"/>
<line x1="1421.3" y1="2351" x2="1476.56" y2="2266.48" stroke="#c6d1ec" stroke-width="1.4" stroke-dasharray="8 6"/>
<polygon points="1255.6,1928.4 979.3,2351 1531.8,2351" fill="none" stroke="#c6d1ec" stroke-width="1.5"/>
<text transform="translate(1021.06 2273.68) scale(1.1 1)" x="0" y="0" font-size="25.6" font-family="Liberation Sans, Arial, sans-serif" fill="#222" text-anchor="end" >0.2</text>
<text transform="translate(1491.96 2273.68) scale(1.1 1)" x="0" y="0" font-size="25.6" font-family="Liberation Sans, Arial, sans-serif" fill="#222" text-anchor="start" >0.8</text>
<text transform="translate(1421.3 2378.6) scale(1.1 1)" x="0" y="0" font-size="25.6" font-family="Liberation Sans, Arial, sans-serif" fill="#222" text-anchor="middle" >0.2</text>
<text transform="translate(1076.32 2189.16) scale(1.1 1)" x="0" y="0" font-size="25.6" font-family="Liberation Sans, Arial, sans-serif" fill="#222" text-anchor="end" >0.4</text>
<text transform="translate(1436.72 2189.16) scale(1.1 1)" x="0" y="0" font-size="25.6" font-family="Liberation Sans, Arial, sans-serif" fill="#222" text-anchor="start" >0.6</text>
<text transform="translate(1310.8 2378.6) scale(1.1 1)" x="0" y="0" font-size="25.6" font-family="Liberation Sans, Arial, sans-serif" fill="#222" text-anchor="middle" >0.4</text>
<text transform="translate(1131.58 2104.64) scale(1.1 1)" x="0" y="0" font-size="25.6" font-family="Liberation Sans, Arial, sans-serif" fill="#222" text-anchor="end" >0.6</text>
<text transform="translate(1381.48 2104.64) scale(1.1 1)" x="0" y="0" font-size="25.6" font-family="Liberation Sans, Arial, sans-serif" fill="#222" text-anchor="start" >0.4</text>
<text transform="translate(1200.3 2378.6) scale(1.1 1)" x="0" y="0" font-size="25.6" font-family="Liberation Sans, Arial, sans-serif" fill="#222" text-anchor="middle" >0.6</text>
<text transform="translate(1186.84 2020.12) scale(1.1 1)" x="0" y="0" font-size="25.6" font-family="Liberation Sans, Arial, sans-serif" fill="#222" text-anchor="end" >0.8</text>
<text transform="translate(1326.24 2020.12) scale(1.1 1)" x="0" y="0" font-size="25.6" font-family="Liberation Sans, Arial, sans-serif" fill="#222" text-anchor="start" >0.2</text>
<text transform="translate(1089.8 2378.6) scale(1.1 1)" x="0" y="0" font-size="25.6" font-family="Liberation Sans, Arial, sans-serif" fill="#222" text-anchor="middle" >0.8</text>
<text transform="translate(1256 1917) scale(1.1 1)" x="0" y="0" font-size="30.4" font-family="Liberation Sans, Arial, sans-serif" fill="#222" text-anchor="middle" >Con</text>
<text transform="translate(979.3 2381) scale(1.1 1)" x="0" y="0" font-size="30.4" font-family="Liberation Sans, Arial, sans-serif" fill="#222" text-anchor="middle" >CIM</text>
<text transform="translate(1533 2381) scale(1.1 1)" x="0" y="0" font-size="30.4" font-family="Liberation Sans, Arial, sans-serif" fill="#222" text-anchor="middle" >UC</text>
<text x="1085" y="1974" font-size="64.5" font-family="Liberation Sans, Arial, sans-serif" fill="#333" text-anchor="start" >J</text>
<ellipse cx="1261.6" cy="1966" rx="11.9" ry="10.3" fill="#20b2aa"/><ellipse cx="1261.6" cy="1966" rx="1.2" ry="1" fill="#8fd8d4"/>
<ellipse cx="1250.8" cy="1974.2" rx="11.5" ry="9.9" fill="#f08080"/><ellipse cx="1250.8" cy="1974.2" rx="1.5" ry="1.2" fill="#f8c0c0"/>
<ellipse cx="1278.2" cy="2002.9" rx="10.8" ry="9.5" fill="#9370db"/><ellipse cx="1278.2" cy="2002.9" rx="3.5" ry="3" fill="#c9b7ed"/>
<ellipse cx="1234.3" cy="2151.3" rx="19.6" ry="17.7" fill="#0000ff"/><ellipse cx="1234.3" cy="2151.3" rx="6.1" ry="5.5" fill="#8080ff"/>
<ellipse cx="1253.9" cy="2156.4" rx="11.6" ry="10.2" fill="#98fb98"/><ellipse cx="1253.9" cy="2156.4" rx="0.8" ry="1.6" fill="#3050d0"/>
<ellipse cx="1271.3" cy="2260.6" rx="20.5" ry="18.1" fill="#dc143c"/><ellipse cx="1271.3" cy="2260.6" rx="7" ry="6.2" fill="#ed899d"/>
<ellipse cx="1288.4" cy="2272.5" rx="11.5" ry="10.4" fill="#1e90ff"/><ellipse cx="1288.4" cy="2272.5" rx="1.8" ry="1.5" fill="#8fc7ff"/>
<ellipse cx="1223.6" cy="2347.6" rx="12.8" ry="11.2" fill="#ffa500"/><ellipse cx="1223.6" cy="2347.6" rx="0.6" ry="0.6" fill="#ffd280"/>
<ellipse cx="1430" cy="2337.2" rx="10.6" ry="9.7" fill="#7cfc00"/><ellipse cx="1430" cy="2337.2" rx="2" ry="1.7" fill="#bdfd80"/>
<ellipse cx="1531.8" cy="2351.3" rx="10.2" ry="8.7" fill="#808000"/><ellipse cx="1531.8" cy="2351.3" rx="3" ry="2.6" fill="#c0c080"/>
<ellipse cx="951.7" cy="2417.6" rx="17.8" ry="15.5" fill="#dc143c"/><ellipse cx="951.7" cy="2417.6" rx="4.1" ry="3.3" fill="#ed899d"/>
<ellipse cx="951.7" cy="2438.5" rx="17.8" ry="15.5" fill="#ffa500"/><ellipse cx="951.7" cy="2438.5" rx="4.1" ry="3.3" fill="#ffd280"/>
<ellipse cx="951.7" cy="2459.4" rx="17.8" ry="15.5" fill="#f08080"/><ellipse cx="951.7" cy="2459.4" rx="4.1" ry="3.3" fill="#f8c0c0"/>
<ellipse cx="951.7" cy="2480.3" rx="17.8" ry="15.5" fill="#808000"/><ellipse cx="951.7" cy="2480.3" rx="4.1" ry="3.3" fill="#c0c080"/>
<ellipse cx="1175.2" cy="2417.6" rx="17.8" ry="15.5" fill="#0000ff"/><ellipse cx="1175.2" cy="2417.6" rx="4.1" ry="3.3" fill="#8080ff"/>
<ellipse cx="1175.2" cy="2438.5" rx="17.8" ry="15.5" fill="#9370db"/><ellipse cx="1175.2" cy="2438.5" rx="4.1" ry="3.3" fill="#c9b7ed"/>
<ellipse cx="1175.2" cy="2459.4" rx="17.8" ry="15.5" fill="#1e90ff"/><ellipse cx="1175.2" cy="2459.4" rx="4.1" ry="3.3" fill="#8fc7ff"/>
<ellipse cx="1399.4" cy="2417.6" rx="17.8" ry="15.5" fill="#20b2aa"/><ellipse cx="1399.4" cy="2417.6" rx="4.1" ry="3.3" fill="#8fd8d4"/>
<ellipse cx="1399.4" cy="2438.5" rx="17.8" ry="15.5" fill="#98fb98"/><ellipse cx="1399.4" cy="2438.5" rx="4.1" ry="3.3" fill="#ccfdcc"/>
<ellipse cx="1399.4" cy="2459.4" rx="17.8" ry="15.5" fill="#7cfc00"/><ellipse cx="1399.4" cy="2459.4" rx="4.1" ry="3.3" fill="#bdfd80"/>
<text transform="translate(969 2424.2) scale(1.18 1)" x="0" y="0" font-size="18.7" font-family="Liberation Sans, Arial, sans-serif" fill="#222" text-anchor="start" >Firmicutes</text>
<text transform="translate(969 2445.1) scale(1.18 1)" x="0" y="0" font-size="18.7" font-family="Liberation Sans, Arial, sans-serif" fill="#222" text-anchor="start" >Proteobacteria</text>
<text transform="translate(969 2466) scale(1.18 1)" x="0" y="0" font-size="18.7" font-family="Liberation Sans, Arial, sans-serif" fill="#222" text-anchor="start" >Patescibacteria</text>
<text transform="translate(969 2486.9) scale(1.18 1)" x="0" y="0" font-size="18.7" font-family="Liberation Sans, Arial, sans-serif" fill="#222" text-anchor="start" >Acidobacteriota</text>
<text transform="translate(1192.5 2424.2) scale(1.18 1)" x="0" y="0" font-size="18.7" font-family="Liberation Sans, Arial, sans-serif" fill="#222" text-anchor="start" >Bacteroidota</text>
<text transform="translate(1192.5 2445.1) scale(1.18 1)" x="0" y="0" font-size="18.7" font-family="Liberation Sans, Arial, sans-serif" fill="#222" text-anchor="start" >Deferribacterota</text>
<text transform="translate(1192.5 2466) scale(1.18 1)" x="0" y="0" font-size="18.7" font-family="Liberation Sans, Arial, sans-serif" fill="#222" text-anchor="start" >Desulfobacterota</text>
<text transform="translate(1416.2 2424.2) scale(1.18 1)" x="0" y="0" font-size="18.7" font-family="Liberation Sans, Arial, sans-serif" fill="#222" text-anchor="start" >Verrucomicrobiota</text>
<text transform="translate(1416.2 2445.1) scale(1.18 1)" x="0" y="0" font-size="18.7" font-family="Liberation Sans, Arial, sans-serif" fill="#222" text-anchor="start" >Actinobacteriota</text>
<text transform="translate(1416.2 2466) scale(1.18 1)" x="0" y="0" font-size="18.7" font-family="Liberation Sans, Arial, sans-serif" fill="#222" text-anchor="start" >Cyanobacteria</text>
</svg></body></html>
